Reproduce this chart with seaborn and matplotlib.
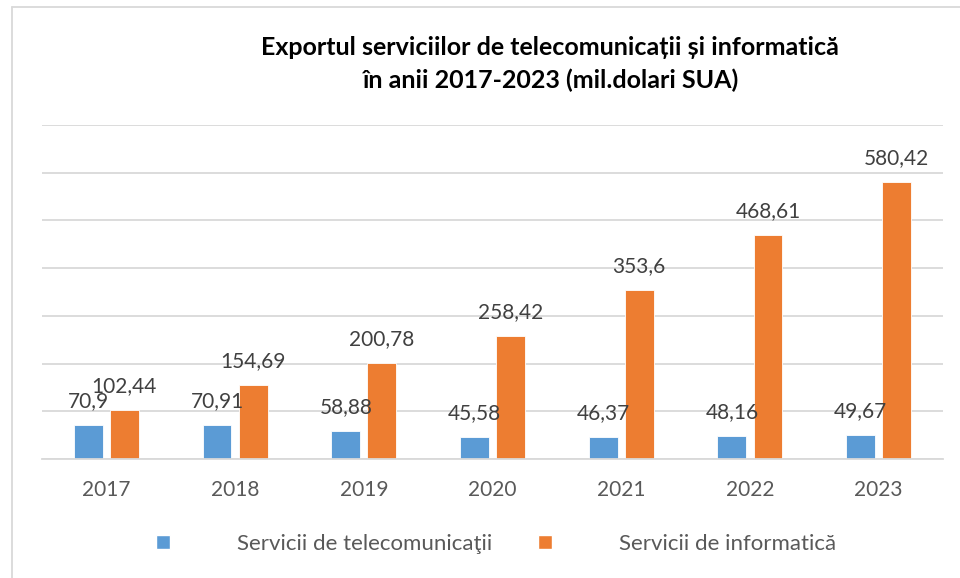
import matplotlib
matplotlib.use("Agg")
import matplotlib.pyplot as plt
from matplotlib.lines import Line2D
from matplotlib.patches import Patch
import pandas as pd
import seaborn as sns

# date
ani = ["2017", "2018", "2019", "2020", "2021", "2022", "2023"]
telecom = [70.9, 70.91, 58.88, 45.58, 46.37, 48.16, 49.67]
informatica = [102.44, 154.69, 200.78, 258.42, 353.6, 468.61, 580.42]
serii = ["Servicii de telecomunica\u0163ii", "Servicii de informatic\u0103"]
titlu = "Exportul serviciilor de telecomunica\u021bii \u0219i informatic\u0103\n\u00een anii 2017-2023 (mil.dolari SUA)"

albastru = "#5B9BD5"
portocaliu = "#ED7D31"
gri = "#D9D9D9"

df = pd.DataFrame({
    "an": ani * 2,
    "valoare": telecom + informatica,
    "serie": [serii[0]] * len(ani) + [serii[1]] * len(ani),
})

sns.set_style("white")
plt.rcParams["font.family"] = ["Lato", "DejaVu Sans"]

fig = plt.figure(figsize=(9.6, 5.78), dpi=100)
ax = fig.add_axes([42 / 960, 1 - 459 / 578, 901 / 960, (459 - 125) / 578])

sns.barplot(data=df, x="an", y="valoare", hue="serie", palette=[albastru, portocaliu],
            saturation=1, width=0.56, gap=0.2, ax=ax, legend=False,
            edgecolor="white", linewidth=0.6)

ax.set_ylim(0, 700)
ax.set_xlim(-0.5, 6.5)
ax.set_yticks(range(0, 701, 100))
ax.set_yticklabels([])
ax.grid(axis="y", color=gri, linewidth=1.3)
ax.set_axisbelow(True)
ax.set(xlabel="", ylabel="")
for s in ["top", "right", "left"]:
    ax.spines[s].set_visible(False)
ax.spines["bottom"].set_color(gri)
ax.spines["bottom"].set_linewidth(1.3)
ax.tick_params(axis="x", length=0, pad=15, labelsize=15, labelcolor="#595959")
ax.tick_params(axis="y", length=0)

for cont, vals in zip(ax.containers, [telecom, informatica]):
    ax.bar_label(cont, labels=[str(v).replace(".", ",") for v in vals],
                 padding=10, fontsize=15, color="#404040")

fig.text(550 / 960, 1 - 64 / 578, titlu, ha="center", va="center", fontsize=18,
         fontweight="bold", color="#000000", linespacing=1.5)

handles = [Patch(facecolor=albastru), Patch(facecolor=portocaliu)]
fig.legend(handles, serii, loc="center", bbox_to_anchor=(496 / 960, 1 - 544 / 578), ncol=2,
           frameon=False, fontsize=16, labelcolor="#595959", handlelength=0.63,
           handleheight=0.63, handletextpad=3.0, columnspacing=2.07)

# chenarul graficului
fig.add_artist(Line2D([12 / 960, 12 / 960], [0, 1 - 7 / 578], color=gri, linewidth=1.3))
fig.add_artist(Line2D([12 / 960, 1], [1 - 7 / 578, 1 - 7 / 578], color=gri, linewidth=1.3))

fig.savefig("out.png", dpi=100)
